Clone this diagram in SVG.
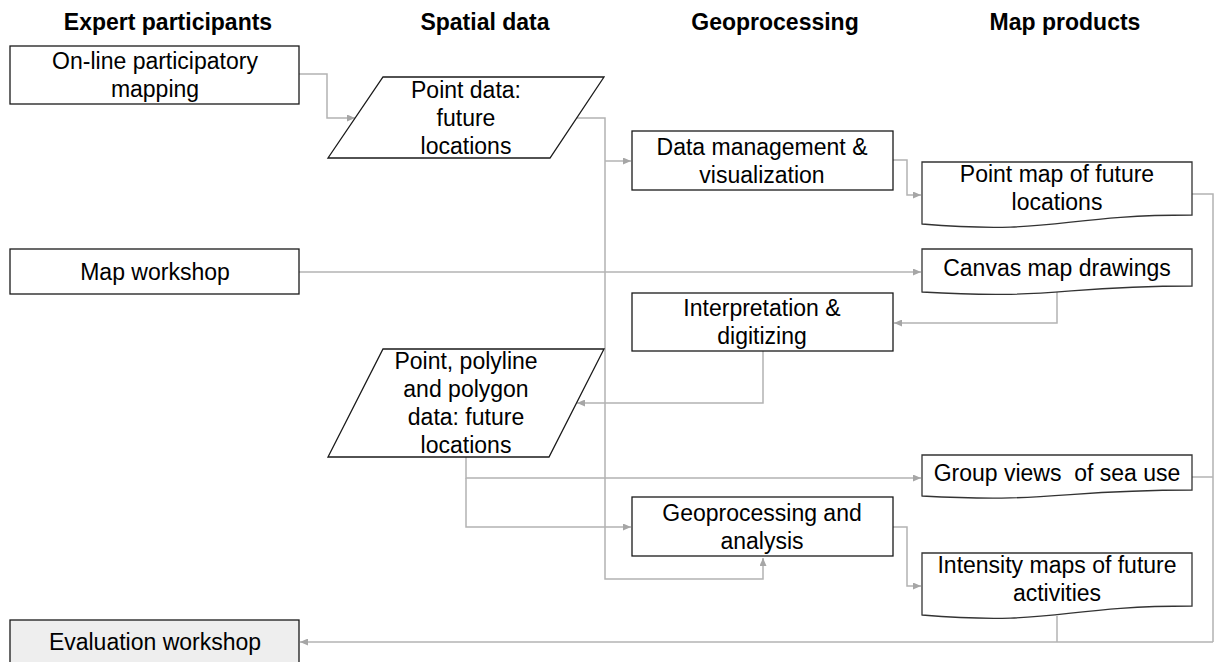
<svg xmlns="http://www.w3.org/2000/svg" width="1214" height="662" viewBox="0 0 1214 662">
  <defs>
    <marker id="arrow" markerWidth="8" markerHeight="7" refX="8" refY="3.5" orient="auto" markerUnits="userSpaceOnUse">
      <path d="M0,0 L8,3.5 L0,7 Z" fill="#a6a6a6"/>
    </marker>
    <style>
      .hdr { font-family: "Liberation Sans", Arial, sans-serif; font-size: 23px; font-weight: bold; fill: #000; text-anchor: middle; }
      .lbl { font-family: "Liberation Sans", Arial, sans-serif; font-size: 23px; fill: #000; text-anchor: middle; }
      .box { fill: #fff; stroke: #1a1a1a; stroke-width: 1.3; }
      .grey { fill: #eeeeee; }
      .doc { fill: #fff; stroke: #333; stroke-width: 1.3; }
      .conn { fill: none; stroke: #b3b3b3; stroke-width: 1.5; }
      .arr { marker-end: url(#arrow); }
    </style>
  </defs>
  <rect width="1214" height="662" fill="#fff"/>

  <!-- column headings -->
  <g id="headers">
    <text class="hdr" x="168" y="30">Expert participants</text>
    <text class="hdr" x="485" y="30">Spatial data</text>
    <text class="hdr" x="775" y="30">Geoprocessing</text>
    <text class="hdr" x="1065" y="30">Map products</text>
  </g>

  <!-- connectors -->
  <g id="connectors">
    <path class="conn arr" d="M299,74 H327 V118 H355"/>
    <path class="conn" d="M577,118 H605 V579 H763 V559"/>
    <path class="conn arr" d="M763,565 V558"/>
    <path class="conn arr" d="M605,161 H631"/>
    <path class="conn arr" d="M893,160 H907 V195 H921"/>
    <path class="conn arr" d="M299,272 H921"/>
    <path class="conn arr" d="M1057,292 V323 H894"/>
    <path class="conn arr" d="M763,351 V403 H577"/>
    <path class="conn arr" d="M466,457 V478 H921"/>
    <path class="conn arr" d="M466,478 V527 H631"/>
    <path class="conn arr" d="M893,527 H907 V586 H921"/>
    <path class="conn" d="M1192,194 H1213 V642"/>
    <path class="conn" d="M1192,477 H1213"/>
    <path class="conn" d="M1057,616 V642"/>
    <path class="conn arr" d="M1213,642 H300"/>
  </g>

  <!-- expert participants column -->
  <g id="online-mapping">
    <rect class="box" x="10" y="46" width="289" height="58"/>
    <text class="lbl" x="155" y="69">On-line participatory</text>
    <text class="lbl" x="155" y="97">mapping</text>
  </g>
  <g id="map-workshop">
    <rect class="box" x="10" y="249" width="289" height="45"/>
    <text class="lbl" x="155" y="280">Map workshop</text>
  </g>
  <g id="evaluation-workshop">
    <rect class="box grey" x="10" y="620" width="289" height="60"/>
    <text class="lbl" x="155" y="650">Evaluation workshop</text>
  </g>

  <!-- spatial data column -->
  <g id="point-data">
    <polygon class="box" points="383,77 604,77 550,158 328,158"/>
    <text class="lbl" x="466" y="98">Point data:</text>
    <text class="lbl" x="466" y="126">future</text>
    <text class="lbl" x="466" y="154">locations</text>
  </g>
  <g id="vector-data">
    <polygon class="box" points="383,349 604,349 549,457 328,457"/>
    <text class="lbl" x="466" y="369">Point, polyline</text>
    <text class="lbl" x="466" y="397">and polygon</text>
    <text class="lbl" x="466" y="425">data: future</text>
    <text class="lbl" x="466" y="453">locations</text>
  </g>

  <!-- geoprocessing column -->
  <g id="data-management">
    <rect class="box" x="632" y="131" width="261" height="59"/>
    <text class="lbl" x="762" y="155">Data management &amp;</text>
    <text class="lbl" x="762" y="183">visualization</text>
  </g>
  <g id="interpretation">
    <rect class="box" x="632" y="293" width="261" height="58"/>
    <text class="lbl" x="762" y="316">Interpretation &amp;</text>
    <text class="lbl" x="762" y="344">digitizing</text>
  </g>
  <g id="geoprocessing-analysis">
    <rect class="box" x="632" y="497" width="261" height="59"/>
    <text class="lbl" x="762" y="521">Geoprocessing and</text>
    <text class="lbl" x="762" y="549">analysis</text>
  </g>

  <!-- map products column (document shapes) -->
  <g id="point-map">
    <path class="doc" d="M922,162 H1192 V215 C1057,215 1057,235 922,224 Z"/>
    <text class="lbl" x="1057" y="182">Point map of future</text>
    <text class="lbl" x="1057" y="210">locations</text>
  </g>
  <g id="canvas-drawings">
    <path class="doc" d="M922,249 H1192 V286 C1057,286 1057,300 922,292 Z"/>
    <text class="lbl" x="1057" y="276">Canvas map drawings</text>
  </g>
  <g id="group-views">
    <path class="doc" d="M922,455 H1192 V490 C1057,490 1057,503 922,496 Z"/>
    <text class="lbl" x="1057" y="481" xml:space="preserve">Group views  of sea use</text>
  </g>
  <g id="intensity-maps">
    <path class="doc" d="M922,553 H1192 V606 C1057,606 1057,626 922,615 Z"/>
    <text class="lbl" x="1057" y="573">Intensity maps of future</text>
    <text class="lbl" x="1057" y="601">activities</text>
  </g>
</svg>
